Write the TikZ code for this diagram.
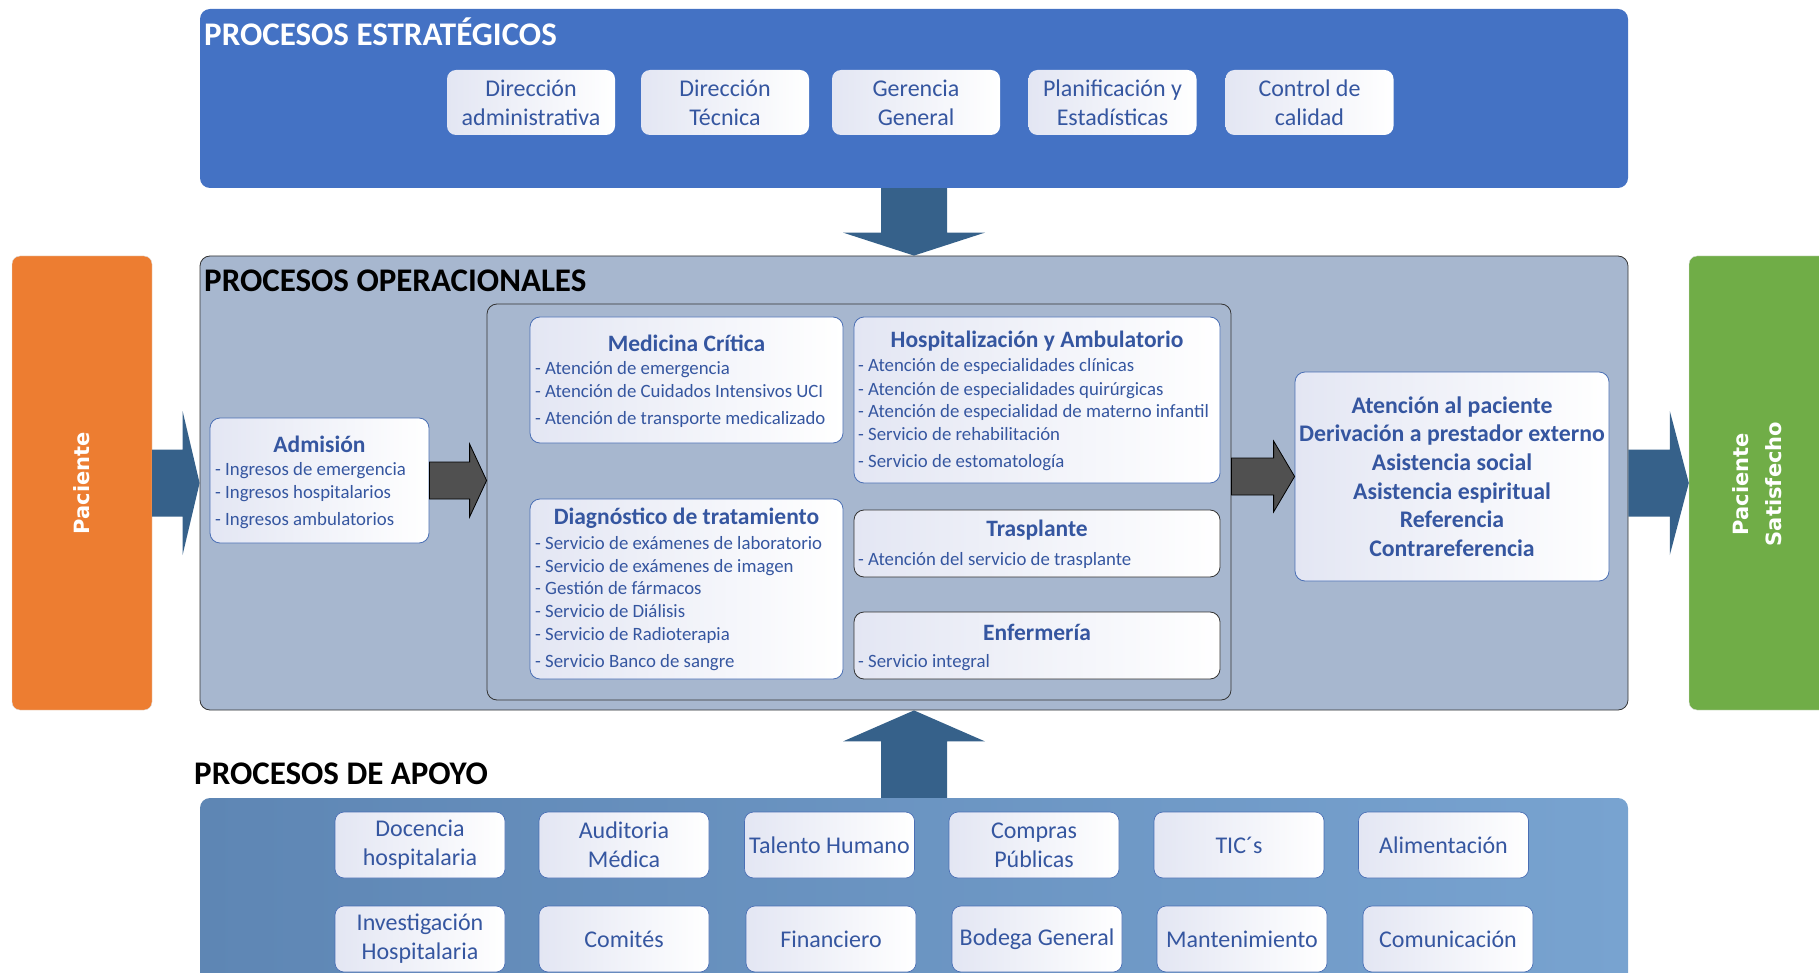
\documentclass[tikz,border=0pt]{standalone}
\usepackage{fontspec}
\setmainfont{Carlito}
\newfontfamily\pacfont{DejaVu Sans}
\usetikzlibrary{calc}

\definecolor{stratblue}{HTML}{4472C4}
\definecolor{opsfill}{HTML}{A7B7CF}
\definecolor{arrowblue}{HTML}{36618A}
\definecolor{txtblue}{HTML}{3556A0}
\definecolor{pacorange}{HTML}{ED7D31}
\definecolor{satgreen}{HTML}{70AD47}
\definecolor{supleft}{HTML}{5E86B4}
\definecolor{supright}{HTML}{78A3D0}
\definecolor{lav}{HTML}{E3E6F3}
\definecolor{boxedge}{HTML}{4A6FB5}
\definecolor{grayarrow}{HTML}{505050}

% horizontal block arrow: style, start, tip, shaft half-height, head half-height, signed head length
\newcommand\hblockarrow[6]{%
  \path[#1] ($(#2)+(0,-#4)$) -- ($(#3)+(#6,-#4)$) -- ($(#3)+(#6,-#5)$) -- (#3)
    -- ($(#3)+(#6,#5)$) -- ($(#3)+(#6,#4)$) -- ($(#2)+(0,#4)$) -- cycle;}
% vertical block arrow: style, start, tip, shaft half-width, head half-width, signed head length
\newcommand\vblockarrow[6]{%
  \path[#1] ($(#2)+(-#4,0)$) -- ($(#3)+(-#4,#6)$) -- ($(#3)+(-#5,#6)$) -- (#3)
    -- ($(#3)+(#5,#6)$) -- ($(#3)+(#4,#6)$) -- ($(#2)+(#4,0)$) -- cycle;}

\begin{document}
\begin{tikzpicture}[x=1pt,y=-1pt,
  panel/.style={rounded corners=10pt, inner sep=0pt},
  heading/.style={anchor=west, inner sep=0pt, font=\bfseries\fontsize{33}{38}\selectfont},
  stratbox/.style={rounded corners=9pt, left color=lav, right color=white, inner sep=0pt,
    minimum width=168pt, minimum height=65pt, text=txtblue, align=center,
    font=\fontsize{24}{29}\selectfont},
  supbox/.style={stratbox, draw=boxedge, line width=0.7pt, minimum width=170pt, minimum height=66pt},
  svcbox/.style={rounded corners=10pt, left color=lav, right color=white, inner sep=0pt,
    draw=boxedge, line width=0.8pt},
  svcboxdark/.style={svcbox, draw=black!80},
  svctitle/.style={text=txtblue, inner sep=0pt, yshift=-1pt, font=\bfseries\fontsize{23.5}{27}\selectfont},
  svcitem/.style={text=txtblue, inner sep=0pt, anchor=west, text height=17.5pt, text depth=4pt,
    font=\fontsize{18.8}{22}\selectfont},
  bluearrow/.style={fill=arrowblue},
  grayblock/.style={fill=grayarrow, draw=black, line width=0.8pt},
  sidetext/.style={text=white, align=center, rotate=90, font=\pacfont\bfseries\fontsize{21}{33}\selectfont}
]
\useasboundingbox (0,0) rectangle (1819,973);
\clip (0,0) rectangle (1819,973);

% ---- main panels ----
\node[panel, fill=stratblue, minimum width=1428pt, minimum height=179pt] (strat) at (914,98.5) {};
\node[panel, fill=opsfill, draw=black!80, line width=0.8pt, minimum width=1428pt, minimum height=454pt] (ops) at (914,483) {};
\node[panel, left color=supleft, right color=supright, minimum width=1428pt, minimum height=192pt] (sup) at (914,894) {};
\node[panel, rounded corners=8pt, fill=pacorange, draw=black!12, minimum width=140pt, minimum height=454pt] (pac) at (82,483) {};
\node[panel, rounded corners=8pt, fill=satgreen, draw=black!12, minimum width=140pt, minimum height=454pt] (sat) at (1759,483) {};
\node[sidetext] (pactxt) at (pac.center) {Paciente};
\node[sidetext] (sattxt) at (1757,484) {Paciente\\Satisfecho};

% ---- headings ----
\node[heading, text=white] (hstrat) at (204,32) {PROCESOS ESTRATÉGICOS};
\node[heading, text=black] (hops) at (204,281) {PROCESOS OPERACIONALES};
\node[heading, text=black] (hsup) at (194,774) {PROCESOS DE APOYO};

% ---- strategic processes ----
\node[stratbox] (s1) at (531,102.5) {Dirección\\administrativa};
\node[stratbox] (s2) at (725,102.5) {Dirección\\Técnica};
\node[stratbox] (s3) at (916,102.5) {Gerencia\\General};
\node[stratbox] (s4) at (1112.5,102.5) {Planificación y\\Estadísticas};
\node[stratbox] (s5) at (1309.5,102.5) {Control de\\calidad};

% ---- operational processes ----
\node[panel, fill=opsfill, draw=black!80, line width=0.8pt, minimum width=744pt, minimum height=396pt] (inner) at (859,502) {};

\node[svcbox, minimum width=219pt, minimum height=125pt] (adm) at (319.5,480.5) {};
\node[svctitle] (adm-t) at (319.5,443) {Admisión};
\foreach \t/\y [count=\i] in {- Ingresos de emergencia/469, - Ingresos hospitalarios/492, - Ingresos ambulatorios/519}
  \node[svcitem] (adm-\i) at (215,\y) {\t};

\node[svcbox, minimum width=313pt, minimum height=126pt] (mc) at (686.5,380) {};
\node[svctitle] (mc-t) at (686.5,342) {Medicina Crítica};
\foreach \t/\y [count=\i] in {- Atención de emergencia/368, - Atención de Cuidados Intensivos UCI/391, - Atención de transporte medicalizado/418}
  \node[svcitem] (mc-\i) at (535,\y) {\t};

\node[svcbox, minimum width=313pt, minimum height=180pt] (diag) at (686.5,589) {};
\node[svctitle] (diag-t) at (686.5,517) {Diagnóstico de tratamiento};
\foreach \t/\y [count=\i] in {- Servicio de exámenes de laboratorio/543, - Servicio de exámenes de imagen/566,
    - Gestión de fármacos/588, - Servicio de Diálisis/611, - Servicio de Radioterapia/634, - Servicio Banco de sangre/661}
  \node[svcitem] (diag-\i) at (535,\y) {\t};

\node[svcbox, minimum width=366pt, minimum height=166pt] (hosp) at (1037,400) {};
\node[svctitle] (hosp-t) at (1037,340) {Hospitalización y Ambulatorio};
\foreach \t/\y [count=\i] in {- Atención de especialidades clínicas/365, - Atención de especialidades quirúrgicas/389,
    - Atención de especialidad de materno infantil/411, - Servicio de rehabilitación/434, - Servicio de estomatología/461}
  \node[svcitem] (hosp-\i) at (858,\y) {\t};

\node[svcboxdark, minimum width=366pt, minimum height=67pt] (tras) at (1037,543.5) {};
\node[svctitle] (tras-t) at (1037,529) {Trasplante};
\node[svcitem] (tras-1) at (858,559) {- Atención del servicio de trasplante};

\node[svcboxdark, minimum width=366pt, minimum height=67pt] (enf) at (1037,645.5) {};
\node[svctitle] (enf-t) at (1037,631) {Enfermería};
\node[svcitem] (enf-1) at (858,661) {- Servicio integral};

\node[svcbox, minimum width=314pt, minimum height=209pt, text=txtblue, align=center,
  font=\bfseries\fontsize{23.8}{28.6}\selectfont] (atn) at (1452,476.5)
  {Atención al paciente\\Derivación a prestador externo\\Asistencia social\\Asistencia espiritual\\Referencia\\Contrareferencia};

% ---- support processes ----
\node[supbox] (a1) at (420,845) {Docencia\\hospitalaria};
\node[supbox] (a2) at (624,845) {Auditoria\\Médica};
\node[supbox] (a3) at (829.5,845) {Talento Humano};
\node[supbox] (a4) at (1034,845) {Compras\\Públicas};
\node[supbox] (a5) at (1239,845) {TIC´s};
\node[supbox] (a6) at (1443.5,845) {Alimentación};
\node[supbox] (b1) at (420,939) {Investigación\\Hospitalaria};
\node[supbox] (b2) at (624,939) {Comités};
\node[supbox] (b3) at (831,939) {Financiero};
\node[supbox] (b4) at (1037,939) {Bodega General};
\node[supbox] (b5) at (1242,939) {Mantenimiento};
\node[supbox] (b6) at (1448,939) {Comunicación};

% ---- flow arrows ----
\coordinate (g1tip) at (inner.west |- adm.east);
\coordinate (g2start) at (inner.east |- atn.west);
\hblockarrow{bluearrow}{pac.east}{ops.west}{33.5}{72}{-17}
\hblockarrow{bluearrow}{ops.east}{sat.west}{33.5}{72}{-19}
\hblockarrow{grayblock}{adm.east}{g1tip}{18.5}{36.5}{-17}
\hblockarrow{grayblock}{g2start}{atn.west}{18.5}{35.5}{-21}
\vblockarrow{bluearrow}{strat.south}{ops.north}{33}{71}{-23}
\vblockarrow{bluearrow}{sup.north}{ops.south}{33}{71}{31}
\end{tikzpicture}
\end{document}
